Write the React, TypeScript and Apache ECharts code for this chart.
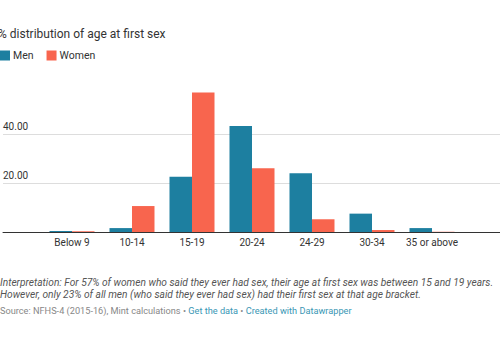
import React, { useEffect, useRef } from "react";
import * as echarts from "echarts";

const categories = ["Below 9", "10-14", "15-19", "20-24", "24-29", "30-34", "35 or above"];
const men = [0.4, 1.6, 22.6, 43.3, 24, 7.5, 1.6];
const women = [0.3, 10.6, 57, 26, 5.2, 0.8, 0.1];
const yTicks = [0, 20, 40];

const MEN_COLOR = "#1d7fa0";
const WOMEN_COLOR = "#f8654e";
const FONT = "Roboto";

export default function App() {
  const ref = useRef<HTMLDivElement>(null);
  useEffect(() => {
    if (!ref.current) return;
    const chart = echarts.init(ref.current, null, { renderer: "svg" });
    chart.setOption({
      animation: false,
      backgroundColor: "#ffffff",
      textStyle: { fontFamily: FONT },
      title: {
        text: "% distribution of age at first sex",
        left: -7,
        top: 23,
        textStyle: { fontFamily: FONT, fontSize: 12, fontWeight: "normal", color: "#333" },
      },
      legend: {
        left: -5,
        top: 45,
        icon: "rect",
        itemWidth: 10,
        itemHeight: 10,
        itemGap: 13,
        textStyle: { fontFamily: FONT, fontSize: 10.5, color: "#333", padding: [0, 0, 0, -2] },
        data: ["Men", "Women"],
      },
      grid: [
        { left: 0, right: 0, top: 90, bottom: 118 },
        { left: 42, right: 38, top: 90, bottom: 118 },
      ],
      xAxis: [
        {
          gridIndex: 0,
          type: "value",
          min: 0,
          max: 1,
          axisLine: { show: true, onZero: false, lineStyle: { color: "#333", width: 1 } },
          axisTick: { show: false },
          axisLabel: { show: false },
          splitLine: { show: false },
        },
        {
          gridIndex: 1,
          type: "category",
          data: categories,
          axisLine: { show: false },
          axisTick: { show: false },
          axisLabel: { interval: 0, fontFamily: FONT, fontSize: 10, color: "#333", margin: 5 },
        },
      ],
      yAxis: [
        {
          gridIndex: 0,
          type: "value",
          min: 0,
          max: 58,
          interval: 20,
          axisLine: { show: false },
          axisTick: { show: false },
          axisLabel: {
            inside: true,
            margin: 0,
            showMinLabel: false,
            showMaxLabel: false,
            verticalAlign: "bottom",
            padding: [0, 0, 3, 0],
            fontFamily: FONT,
            fontSize: 10,
            color: "#333",
            formatter: (v: number) => (yTicks.includes(v) && v !== 0 ? v.toFixed(2) : ""),
          },
          splitLine: {
            show: true,
            showMinLine: false,
            showMaxLine: false,
            lineStyle: { color: "#dddddd", width: 1 },
          },
        },
        {
          gridIndex: 1,
          type: "value",
          min: 0,
          max: 58,
          show: false,
        },
      ],
      series: [
        {
          name: "Men",
          type: "bar",
          xAxisIndex: 1,
          yAxisIndex: 1,
          data: men,
          itemStyle: { color: MEN_COLOR },
          barGap: "0%",
          barCategoryGap: "25%",
        },
        {
          name: "Women",
          type: "bar",
          xAxisIndex: 1,
          yAxisIndex: 1,
          data: women,
          itemStyle: { color: WOMEN_COLOR },
          barGap: "0%",
          barCategoryGap: "25%",
        },
      ],
      graphic: [
        {
          type: "text",
          left: 0,
          top: 277,
          style: {
            text: "Interpretation: For 57% of women who said they ever had sex, their age at first sex was between 15 and 19 years.",
            font: `italic 10.2px ${FONT}`,
            fill: "#555",
          },
        },
        {
          type: "text",
          left: 0,
          top: 289,
          style: {
            text: "However, only 23% of all men (who said they ever had sex) had their first sex at that age bracket.",
            font: `italic 10.2px ${FONT}`,
            fill: "#555",
          },
        },
        {
          type: "text",
          left: 0,
          top: 306,
          style: {
            rich: {
              g: { fontFamily: FONT, fontSize: 9.2, fill: "#888" },
              b: { fontFamily: FONT, fontSize: 9.2, fill: "#3a97b5" },
            },
            text: "{g|Source: NFHS-4 (2015-16), Mint calculations • }{b|Get the data}{g| • }{b|Created with Datawrapper}",
          },
        },
      ],
    });
    return () => chart.dispose();
  }, []);
  return (
    <div
      ref={ref}
      style={{ width: 500, height: 350, position: "fixed", left: 0, top: 0 }}
    />
  );
}
